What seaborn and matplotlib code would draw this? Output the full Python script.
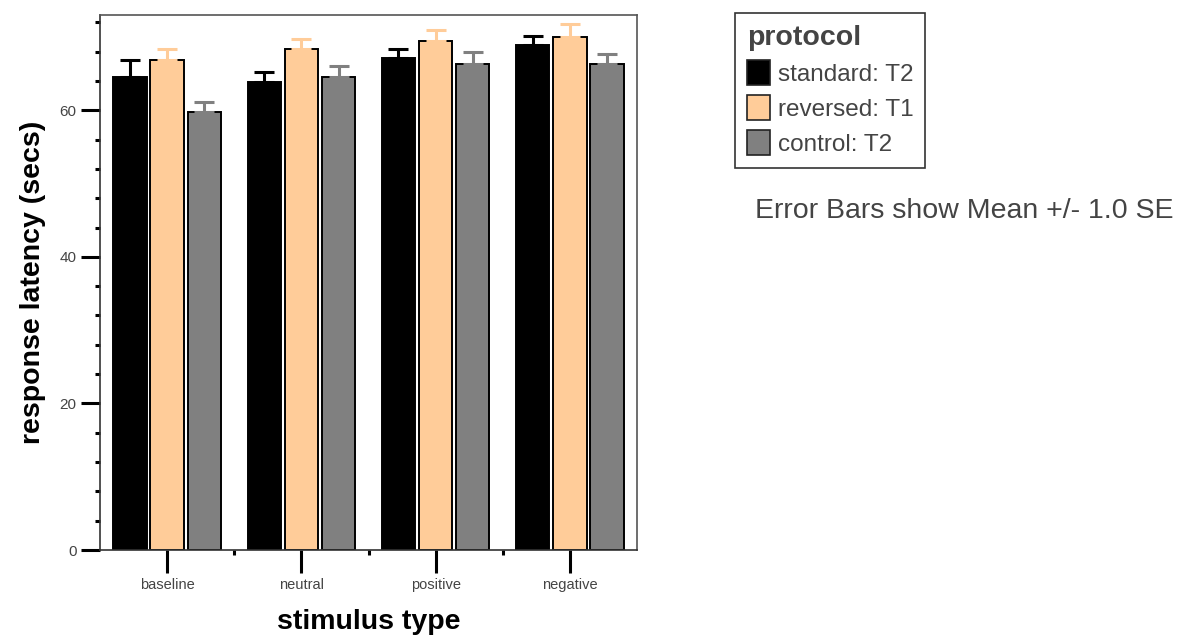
import matplotlib
matplotlib.use("Agg")
import matplotlib.pyplot as plt
import seaborn as sns
import pandas as pd
import numpy as np
from matplotlib.patches import Patch
from matplotlib.ticker import MultipleLocator

categories = ["baseline", "neutral", "positive", "negative"]
protocols = ["standard: T2", "reversed: T1", "control: T2"]
standard_mean = [64.6, 63.9, 67.1, 68.9]
standard_se = [2.2, 1.3, 1.2, 1.3]
reversed_mean = [66.8, 68.4, 69.5, 70.0]
reversed_se = [1.6, 1.3, 1.4, 1.8]
control_mean = [59.8, 64.6, 66.3, 66.3]
control_se = [1.3, 1.4, 1.7, 1.4]
colors = ["#000000", "#FFCC99", "#808080"]

sns.set_style("white")
plt.rcParams["font.family"] = ["Liberation Sans", "DejaVu Sans"]

means = [standard_mean, reversed_mean, control_mean]
ses = [standard_se, reversed_se, control_se]
rows = []
for p, m in zip(protocols, means):
    for c, v in zip(categories, m):
        rows.append({"stimulus": c, "protocol": p, "value": v})
df = pd.DataFrame(rows)

fig = plt.figure(figsize=(11.94, 6.35), dpi=100)
ax = fig.add_axes([100/1194, 1-550/635, 537/1194, 535/635])

sns.barplot(data=df, x="stimulus", y="value", hue="protocol", order=categories,
            hue_order=protocols, palette=colors, saturation=1, width=0.83, gap=0.1,
            edgecolor="black", linewidth=1.4, errorbar=None, legend=False, ax=ax)

# error bars (upper only)
for i, (p, m, s) in enumerate(zip(protocols, means, ses)):
    bars = ax.containers[i]
    xs = [b.get_x() + b.get_width()/2 for b in bars]
    ax.errorbar(xs, m, yerr=[np.zeros(len(s)), s], fmt="none", ecolor=colors[i],
                elinewidth=2.2, capsize=7, capthick=2.2, zorder=1)

ax.set_xlim(-0.5, 3.5)
ax.set_ylim(0, 73)
ax.yaxis.set_major_locator(MultipleLocator(20))
ax.yaxis.set_minor_locator(MultipleLocator(4))
ax.set_xticks(range(4))
ax.set_xticks([0.5, 1.5, 2.5], minor=True)
ax.tick_params(axis="y", which="major", direction="out", length=14, width=2.2, left=True,
               color="black", labelsize=11, labelcolor="#444444", pad=3)
ax.tick_params(axis="y", which="minor", direction="out", length=3.6, width=2.2, left=True,
               color="black")
ax.tick_params(axis="x", which="major", direction="out", length=16.5, width=2.2, bottom=True,
               color="black", labelsize=10.5, labelcolor="#444444", pad=4)
ax.tick_params(axis="x", which="minor", direction="out", length=3.6, width=2.2, bottom=True,
               color="black")

for side in ["top", "right"]:
    ax.spines[side].set_color("#555555")
    ax.spines[side].set_linewidth(1.2)
for side in ["left", "bottom"]:
    ax.spines[side].set_color("#333333")
    ax.spines[side].set_linewidth(1.2)

ax.set_xlabel("stimulus type", fontsize=20.5, fontweight="bold", labelpad=12, color="black")
ax.set_ylabel("response latency (secs)", fontsize=20.5, fontweight="bold", labelpad=10,
              color="black")

handles = [Patch(facecolor=c, edgecolor="#222222", linewidth=1.2, label=p)
           for c, p in zip(colors, protocols)]
leg = fig.legend(handles=handles, loc="upper left", bbox_to_anchor=(735/1194, 1-13/635),
                 title="protocol", fontsize=17.5, title_fontsize=20.5, frameon=True,
                 fancybox=False, edgecolor="black", handlelength=0.95, handleheight=1.2,
                 handletextpad=0.3, labelspacing=0.38, borderpad=0.5, borderaxespad=0,
                 alignment="left")
leg.get_title().set_fontweight("bold")
leg.get_title().set_color("#444444")
leg.get_frame().set_linewidth(1.2)
for t in leg.get_texts():
    t.set_color("#444444")

fig.text(755/1194, 1-211/635, "Error Bars show Mean +/- 1.0 SE", fontsize=20.5,
         color="#444444", va="center", ha="left")

fig.savefig("out.png", dpi=100)
